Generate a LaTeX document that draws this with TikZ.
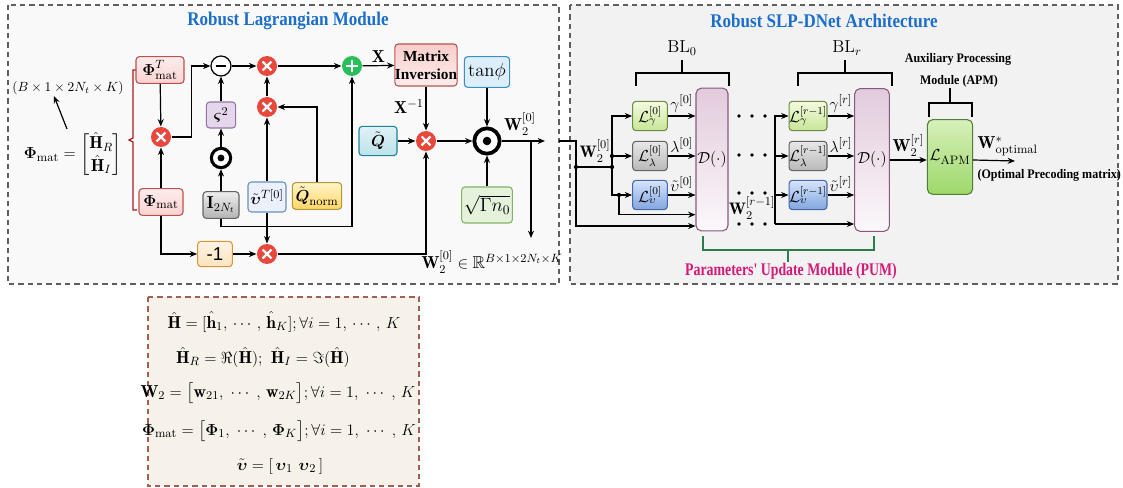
\documentclass[tikz,border=0pt]{standalone}
\usepackage{amsmath,amssymb}
\usepackage{fontspec}
\newfontfamily\tms{Liberation Serif}
\newfontfamily\tmsc[FakeStretch=0.78]{Liberation Serif}
\newfontfamily\tmst[FakeStretch=0.88]{Liberation Serif}
\newfontfamily\tmsn[FakeStretch=0.92]{Liberation Serif}
\newfontfamily\ars{Liberation Sans}
\usetikzlibrary{arrows.meta,shadows}

\definecolor{titleblue}{RGB}{28,110,205}
\definecolor{pumred}{RGB}{214,24,118}
\definecolor{xred}{RGB}{232,72,60}
\definecolor{pgreen}{RGB}{40,190,92}
\definecolor{bracered}{RGB}{170,30,30}
\definecolor{pumgreen}{RGB}{45,125,75}
\definecolor{frame}{RGB}{95,95,95}
\definecolor{leftbg}{RGB}{249,249,249}
\definecolor{rightbg}{RGB}{242,242,242}
\definecolor{notebg}{RGB}{246,242,234}
\definecolor{noteframe}{RGB}{160,95,85}

\tikzset{
  arr/.style={-{Stealth[length=5.5pt,width=4.5pt]}},
  box/.style={draw, rounded corners=2.5pt, inner sep=0pt, line width=0.8pt},
  phibox/.style={box, draw={rgb,255:red,192;green,80;blue,77}, top color={rgb,255:red,253;green,236;blue,236}, bottom color={rgb,255:red,249;green,212;blue,210}},
  negbox/.style={box, draw={rgb,255:red,215;green,150;blue,60}, top color={rgb,255:red,255;green,244;blue,228}, bottom color={rgb,255:red,252;green,226;blue,190}},
  sigbox/.style={box, draw={rgb,255:red,150;green,115;blue,166}, fill={rgb,255:red,228;green,215;blue,236}},
  idbox/.style={box, draw={rgb,255:red,100;green,100;blue,100}, top color={rgb,255:red,238;green,238;blue,238}, bottom color={rgb,255:red,180;green,180;blue,180}},
  upsbox/.style={box, draw={rgb,255:red,108;green,142;blue,191}, fill={rgb,255:red,234;green,241;blue,252}},
  qnbox/.style={box, draw={rgb,255:red,180;green,150;blue,60}, top color={rgb,255:red,255;green,244;blue,200}, bottom color={rgb,255:red,255;green,214;blue,100}},
  invbox/.style={box, draw={rgb,255:red,184;green,84;blue,80}, top color={rgb,255:red,248;green,206;blue,204}, bottom color={rgb,255:red,253;green,236;blue,236}},
  qbox/.style={box, draw={rgb,255:red,30;green,130;blue,150}, top color={rgb,255:red,222;green,242;blue,246}, bottom color={rgb,255:red,190;green,226;blue,234}},
  tanbox/.style={box, draw={rgb,255:red,58;green,143;blue,196}, fill={rgb,255:red,219;green,238;blue,250}},
  sqbox/.style={box, draw={rgb,255:red,130;green,179;blue,102}, fill={rgb,255:red,228;green,242;blue,220}},
  lgbox/.style={box, draw={rgb,255:red,110;green,140;blue,70}, top color={rgb,255:red,244;green,250;blue,224}, bottom color={rgb,255:red,200;green,230;blue,150}},
  llbox/.style={box, draw={rgb,255:red,100;green,100;blue,100}, top color={rgb,255:red,232;green,232;blue,232}, bottom color={rgb,255:red,184;green,184;blue,184}},
  lvbox/.style={box, draw={rgb,255:red,70;green,105;blue,165}, top color={rgb,255:red,214;green,228;blue,250}, bottom color={rgb,255:red,128;green,166;blue,224}},
  dbox/.style={box, rounded corners=4pt, draw={rgb,255:red,135;green,90;blue,125}, top color={rgb,255:red,226;green,203;blue,220}, bottom color={rgb,255:red,252;green,248;blue,251}},
  apmbox/.style={box, rounded corners=4pt, draw={rgb,255:red,80;green,125;blue,55}, top color={rgb,255:red,214;green,240;blue,186}, bottom color={rgb,255:red,158;green,216;blue,106}},
  mul/.style={circle, fill=xred, minimum size=15pt, inner sep=0pt,
    path picture={\draw[white, line width=1.6pt]
      ([shift={(-3.3pt,-3.3pt)}]path picture bounding box.center) -- ([shift={(3.3pt,3.3pt)}]path picture bounding box.center)
      ([shift={(-3.3pt,3.3pt)}]path picture bounding box.center) -- ([shift={(3.3pt,-3.3pt)}]path picture bounding box.center);}},
  addop/.style={circle, fill=pgreen, minimum size=15pt, inner sep=0pt,
    path picture={\draw[white, line width=1.6pt]
      ([shift={(-4.5pt,0pt)}]path picture bounding box.center) -- ([shift={(4.5pt,0pt)}]path picture bounding box.center)
      ([shift={(0pt,-4.5pt)}]path picture bounding box.center) -- ([shift={(0pt,4.5pt)}]path picture bounding box.center);}},
  subop/.style={circle, draw, fill=white, minimum size=15pt, inner sep=0pt, line width=0.9pt,
    path picture={\draw[black, line width=1.1pt]
      ([shift={(-4pt,0pt)}]path picture bounding box.center) -- ([shift={(4pt,0pt)}]path picture bounding box.center);}},
  hada/.style={circle, draw=black, fill=white, inner sep=0pt, line width=2.4pt,
    path picture={\fill[black] (path picture bounding box.center) circle (#1);}},
  lbl/.style={inner sep=1pt},
  capt/.style={font=\tmsn\bfseries\fontsize{9.8}{12}\selectfont, inner sep=1pt},
  ttl/.style={font=\tmst\bfseries\fontsize{14.5}{17}\selectfont, text=titleblue},
}

\begin{document}
\begin{tikzpicture}[x=0.75pt, y=-0.75pt, line width=0.9pt, font=\fontsize{13}{15}\selectfont]
\useasboundingbox (0,0) rectangle (1123,488);

% module frames
\draw[frame, dashed, dash pattern=on 4pt off 3pt, line width=0.8pt, fill=leftbg] (8,5) rectangle (559,284);
\draw[frame, dashed, dash pattern=on 4pt off 3pt, line width=0.8pt, fill=rightbg] (570,5) rectangle (1118,284);
\draw[noteframe, dashed, dash pattern=on 4pt off 3pt, line width=0.8pt, fill=notebg] (148,297) rectangle (419,486);

\node[ttl] (titleL) at (288,21) {Robust Lagrangian Module};
\node[ttl] (titleR) at (824,21) {Robust SLP-DNet Architecture};

% ---------- Robust Lagrangian module ----------
\node (phidef) at (73,155) {$\boldsymbol{\Phi}_{\mathrm{mat}} = \begin{bmatrix}\hat{\mathbf{H}}_R\\ \hat{\mathbf{H}}_I\end{bmatrix}$};
\node[font=\fontsize{9.6}{11}\selectfont] (dims) at (68,88) {$(B\times 1\times 2N_t\times K)$};
\coordinate (dimsfoot) at (67,129);
\coordinate (dimstip) at (54,96);
\draw[arr] (dimsfoot) -- (dimstip);

\draw[bracered, line width=0.9pt] (137,70) -- (133,70) -- (133,138) -- (129,140) -- (133,142) -- (133,210) -- (137,210);

\node[phibox, minimum width=36pt, minimum height=20pt] (phiT) at (160,70) {$\boldsymbol{\Phi}^{T}_{\mathrm{mat}}$};
\node[phibox, minimum width=33pt, minimum height=20pt] (phim) at (161,202) {$\boldsymbol{\Phi}_{\mathrm{mat}}$};
\node[mul] (xa) at (161,137) {};
\node[subop] (minus) at (221,66) {};
\node[mul] (xb) at (267,66) {};
\node[mul] (xc) at (267,107) {};
\node[mul] (xd) at (267,254) {};
\node[addop] (plus) at (352,66) {};
\node[sigbox, minimum width=22pt, minimum height=19.5pt] (sig) at (221,115) {$\boldsymbol{\varsigma}^2$};
\node[hada=2.6pt, minimum size=14.5pt, line width=2.3pt] (od1) at (221,158) {};
\node[idbox, minimum width=27pt, minimum height=20pt] (eye) at (221,205) {$\mathbf{I}_{2N_t}$};
\node[upsbox, minimum width=28.5pt, minimum height=22.5pt] (vt) at (267,197) {$\tilde{\boldsymbol{\upsilon}}^{T[0]}$};
\node[qnbox, minimum width=37pt, minimum height=20pt] (qn) at (317,196) {$\tilde{\boldsymbol{Q}}_{\mathrm{norm}}$};
\node[negbox, minimum width=26pt, minimum height=19pt, font=\ars\fontsize{14}{16}\selectfont] (neg) at (215,254) {-1};
\node[invbox, minimum width=46.5pt, minimum height=31.5pt, align=center, font=\tms\bfseries\fontsize{11.5}{13.5}\selectfont] (minv) at (426,65) {Matrix\\Inversion};
\node[qbox, minimum width=28.5pt, minimum height=22pt] (qt) at (378,141) {$\tilde{\boldsymbol{Q}}$};
\node[mul] (xe) at (426,141) {};
\node[hada=3.2pt, minimum size=19pt, line width=2.8pt] (od2) at (487,141) {};
\node[tanbox, minimum width=34pt, minimum height=23pt, font=\fontsize{14}{16}\selectfont] (tan) at (487,72) {$\mathrm{tan}\phi$};
\node[sqbox, minimum width=38pt, minimum height=27pt, font=\fontsize{14}{16}\selectfont] (sq) at (487,205) {$\sqrt{\Gamma n_0}$};

\draw[arr] (phiT) -- (xa);
\draw[arr] (phim) -- (xa);
\draw[arr] (xa.east) -- ++(20,0) |- (minus.west);
\draw[arr] (eye) -- (od1);
\draw[arr] (od1) -- (sig);
\draw[arr] (sig) -- (minus);
\draw[arr] (minus) -- (xb);
\draw[arr] (xc) -- (xb);
\draw[arr] (vt) -- (xc);
\draw[arr] (qn.north) |- (xc.east);
\draw[arr] (vt) -- (xd);
\draw[arr] (eye.south) -- ++(0,8) -| (plus.south);
\draw[arr] (xb) -- (plus);
\draw[arr] (phim.south) |- (neg.west);
\draw[arr] (neg) -- (xd);
\draw[arr] (xd.east) -| (xe.south);
\draw[arr] (plus) -- node[lbl, above, yshift=1pt] (xlab) {$\mathbf{X}$} (minv);
\draw[arr] (minv) -- (xe);
\node (xinv) at (409,107) {$\mathbf{X}^{-1}$};
\draw[arr] (qt) -- (xe);
\draw[arr] (xe) -- (od2);
\draw[arr] (tan) -- (od2);
\draw[arr] (sq) -- (od2);
\coordinate (w2end) at (545,141);
\coordinate (w2tap) at (531,238);
\draw[arr] (od2) -- (w2end);
\draw[arr] (w2tap |- od2) -- (w2tap);
\node (w2a) at (520,124) {$\mathbf{W}_2^{[0]}$};
\node (w2space) at (492,262) {$\mathbf{W}_2^{[0]}\in\mathbb{R}^{B\times 1\times 2N_t\times K}$};

% ---------- Robust SLP-DNet ----------
\node[dbox, minimum width=24pt, minimum height=107pt] (D1) at (712,159.5) {$\mathcal{D}(\cdot)$};
\node[dbox, minimum width=26pt, minimum height=107pt] (D2) at (872,160) {$\mathcal{D}(\cdot)$};
\begin{scope}[font=\fontsize{12}{14}\selectfont]
\node[lgbox, minimum width=26pt, minimum height=22pt] (Lg0) at (650,116) {$\mathcal{L}_{\gamma}^{[0]}$};
\node[llbox, minimum width=26pt, minimum height=22pt] (Ll0) at (650,156) {$\mathcal{L}_{\lambda}^{[0]}$};
\node[lvbox, minimum width=26pt, minimum height=22pt] (Lv0) at (650,195) {$\mathcal{L}_{\upsilon}^{[0]}$};
\node[lgbox, minimum width=27pt, minimum height=22pt] (Lg1) at (808,116) {$\mathcal{L}_{\gamma}^{[r-1]}$};
\node[llbox, minimum width=27pt, minimum height=22pt] (Ll1) at (808,156) {$\mathcal{L}_{\lambda}^{[r-1]}$};
\node[lvbox, minimum width=27pt, minimum height=22pt] (Lv1) at (808,195) {$\mathcal{L}_{\upsilon}^{[r-1]}$};
\end{scope}
\node[apmbox, minimum width=34pt, minimum height=56pt] (apm) at (950,157) {$\mathcal{L}_{\mathrm{APM}}$};

% input bus of the first block
\coordinate (w2in) at (559,141);
\coordinate (J0) at (576,167);
\coordinate (J1) at (612,167);
\coordinate (J2) at (619,195);
\draw[arr] (w2in) -| (J0) |- ([yshift=4pt]D1.south west);
\draw (J0) -- (J1);
\draw[arr] (J1) |- (Lg0.west);
\draw[arr] (J1) |- (Lv0.west);
\draw[arr] (J1 |- Ll0) -- (Ll0.west);
\draw[arr] (J2) |- ([yshift=12.5pt]D1.south west);
\foreach \p in {J0,J1,J2} \fill (\p) circle (1.6pt);
\fill (J1 |- Ll0) circle (1.6pt);
\node[font=\fontsize{12.5}{14}\selectfont] (w2b) at (595,151) {$\mathbf{W}_2^{[0]}$};

\draw[arr] (Lg0.east) -- node[lbl, above, yshift=1pt] (g0) {$\gamma^{[0]}$} (Lg0.east -| D1.west);
\draw[arr] (Ll0.east) -- node[lbl, above, yshift=1pt] (l0) {$\lambda^{[0]}$} (Ll0.east -| D1.west);
\draw[arr] (Lv0.east) -- node[lbl, above, yshift=1pt] (v0) {$\tilde{\upsilon}^{[0]}$} (Lv0.east -| D1.west);

% repeated blocks
\foreach \yy in {116,155,193,224}
  \foreach \xx in {739,752,765} \fill (\xx,\yy) circle (1.4pt);
\node[font=\fontsize{12.5}{14}\selectfont, inner sep=0pt] (w2r1) at (752,208) {$\mathbf{W}_2^{[r-1]}$};

\coordinate (bus) at (775,224);
\draw[arr] (bus) |- (Lg1.west);
\draw[arr] (bus |- Ll1) -- (Ll1.west);
\draw[arr] (bus |- Lv1) -- (Lv1.west);
\draw[arr] (bus) -- (bus -| D2.west);
\draw[arr] (Lg1.east) -- node[lbl, above, yshift=1pt] (g1) {$\gamma^{[r]}$} (Lg1.east -| D2.west);
\draw[arr] (Ll1.east) -- node[lbl, above, yshift=1pt] (l1) {$\lambda^{[r]}$} (Ll1.east -| D2.west);
\draw[arr] (Lv1.east) -- node[lbl, above, yshift=1pt] (v1) {$\tilde{\upsilon}^{[r]}$} (Lv1.east -| D2.west);

% block brackets
\draw (636,86) -- (636,73) -- (729,73) -- (729,86);
\draw (682,73) -- (682,60);
\node (bl0) at (682,48) {$\mathrm{BL}_0$};
\draw (798,86) -- (798,73) -- (892,73) -- (892,86);
\draw (845,73) -- (845,60);
\node (blr) at (847,48) {$\mathrm{BL}_r$};

% parameters' update module
\draw[pumgreen] (703,236) -- (703,250) -- (874,250) -- (874,236);
\draw[pumgreen] (788,250) -- (788,262);
\node[font=\tmsc\bfseries\fontsize{13.3}{15}\selectfont, text=pumred] (pum) at (791,271) {Parameters' Update Module (PUM)};

% auxiliary processing module
\draw[arr] (D2.east) -- node[lbl, above, yshift=1pt] (w2r) {$\mathbf{W}_2^{[r]}$} (D2.east -| apm.west);
\draw (929,117) -- (929,103) -- (972,103) -- (972,117);
\draw (950,103) -- (950,88);
\node[capt] (apmt1) at (958,59) {Auxiliary Processing};
\node[capt] (apmt2) at (959,81) {Module (APM)};
\coordinate (wout) at (1015,161);
\draw[arr] (D2.east -| apm.east) -- (wout);
\node[anchor=west, inner sep=0pt] (wopt) at (977,146) {$\mathbf{W}^{*}_{\mathrm{optimal}}$};
\node[capt, anchor=west, inner sep=0pt] (wopt2) at (977,175) {(Optimal Precoding matrix)};

% ---------- notation ----------
\node (n1) at (284,322) {$\hat{\mathbf{H}} = [\hat{\mathbf{h}}_1,\,\cdots,\,\hat{\mathbf{h}}_K];\forall i = 1,\,\cdots,\,K$};
\node (n2) at (263,357) {$\hat{\mathbf{H}}_R = \Re(\hat{\mathbf{H}});\ \hat{\mathbf{H}}_I = \Im(\hat{\mathbf{H}})$};
\node (n3) at (278,393) {$\mathbf{W}_2 = \bigl[\mathbf{w}_{21},\;\cdots\;,\,\mathbf{w}_{2K}\bigr];\forall i = 1,\;\cdots\;,\,K$};
\node (n4) at (279,431) {$\boldsymbol{\Phi}_{\mathrm{mat}} = \bigl[\boldsymbol{\Phi}_1,\;\cdots\;,\,\boldsymbol{\Phi}_K\bigr];\forall i = 1,\;\cdots\;,\,K$};
\node (n5) at (280,466) {$\tilde{\boldsymbol{\upsilon}} = [\,\boldsymbol{\upsilon}_1\ \boldsymbol{\upsilon}_2\,]$};
\end{tikzpicture}
\end{document}
